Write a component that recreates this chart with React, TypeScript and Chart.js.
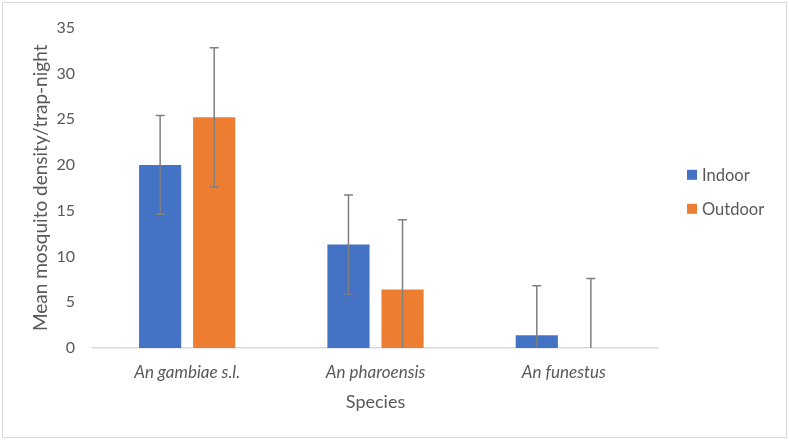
import React, { useEffect, useRef } from "react";
import { Chart, registerables } from "chart.js";

Chart.register(...registerables);

const categories = ["An gambiae s.l.", "An pharoensis", "An funestus"];
const indoorMeans = [20.0, 11.3, 1.4];
const outdoorMeans = [25.2, 6.4, 0];
const indoorErrors = [5.4, 5.4, 5.4];
const outdoorErrors = [7.6, 7.6, 7.6];
const seriesNames = ["Indoor", "Outdoor"];
const seriesColors = ["#4472C4", "#ED7D31"];
const yTitle = "Mean mosquito density/trap-night";
const xTitle = "Species";

const FONT = "Lato";
const TEXT = "#595959";

const errorBarPlugin = {
  id: "errorBars",
  afterDatasetsDraw(chart: any) {
    const ctx = chart.ctx;
    const yScale = chart.scales.y;
    ctx.save();
    ctx.strokeStyle = "#7f7f7f";
    ctx.lineWidth = 1.5;
    chart.data.datasets.forEach((ds: any, i: number) => {
      const meta = chart.getDatasetMeta(i);
      meta.data.forEach((bar: any, j: number) => {
        const v = ds.data[j];
        const e = ds.errors[j];
        const lo = Math.max(0, v - e);
        const hi = v + e;
        const x = bar.x;
        const yLo = yScale.getPixelForValue(lo);
        const yHi = yScale.getPixelForValue(hi);
        ctx.beginPath();
        ctx.moveTo(x, yLo);
        ctx.lineTo(x, yHi);
        ctx.moveTo(x - 4.5, yHi);
        ctx.lineTo(x + 4.5, yHi);
        if (lo > 0) {
          ctx.moveTo(x - 4.5, yLo);
          ctx.lineTo(x + 4.5, yLo);
        }
        ctx.stroke();
      });
    });
    ctx.restore();
  },
};

const frameLegendPlugin = {
  id: "frameLegend",
  beforeDraw(chart: any) {
    const ctx = chart.ctx;
    ctx.save();
    ctx.fillStyle = "#ffffff";
    ctx.fillRect(0, 0, chart.width, chart.height);
    ctx.strokeStyle = "#d9d9d9";
    ctx.lineWidth = 1;
    ctx.strokeRect(2.5, 2.5, chart.width - 5, chart.height - 5);
    ctx.restore();
  },
  afterDraw(chart: any) {
    const ctx = chart.ctx;
    const area = chart.chartArea;
    const x0 = area.right + 29;
    const mid = (area.top + area.bottom) / 2;
    ctx.save();
    ctx.font = `16.5px ${FONT}`;
    ctx.textBaseline = "middle";
    ctx.textAlign = "left";
    seriesNames.forEach((name, i) => {
      const cy = mid - 13 + i * 34;
      ctx.fillStyle = seriesColors[i];
      ctx.fillRect(x0, cy - 5, 10, 10);
      ctx.fillStyle = TEXT;
      ctx.fillText(name, x0 + 15, cy + 1);
    });
    ctx.restore();
  },
};

export default function App() {
  const ref = useRef<HTMLCanvasElement>(null);
  useEffect(() => {
    if (!ref.current) return;
    const chart = new Chart(ref.current, {
      type: "bar",
      data: {
        labels: categories,
        datasets: [
          {
            label: seriesNames[0],
            data: indoorMeans,
            errors: indoorErrors,
            backgroundColor: seriesColors[0],
            categoryPercentage: 0.574,
            barPercentage: 0.78,
          } as any,
          {
            label: seriesNames[1],
            data: outdoorMeans,
            errors: outdoorErrors,
            backgroundColor: seriesColors[1],
            categoryPercentage: 0.574,
            barPercentage: 0.78,
          } as any,
        ],
      },
      options: {
        animation: false,
        responsive: true,
        maintainAspectRatio: false,
        layout: { padding: { left: 0, right: 131, top: 24, bottom: 0 } },
        plugins: {
          legend: { display: false },
          tooltip: { enabled: false },
        },
        scales: {
          x: {
            grid: { display: false, drawTicks: false },
            border: { display: true, color: "#d9d9d9", width: 1.5 },
            ticks: {
              color: TEXT,
              font: { family: FONT, size: 17, style: "italic" },
              padding: 14,
            },
            title: {
              display: true,
              text: xTitle,
              color: TEXT,
              font: { family: FONT, size: 18 },
              padding: { top: 27, bottom: 27 },
            },
            afterFit: (s: any) => {
              s.height = 92;
            },
          },
          y: {
            min: 0,
            max: 35,
            grid: { display: false, drawTicks: false },
            border: { display: false },
            ticks: {
              stepSize: 5,
              color: TEXT,
              font: { family: FONT, size: 16 },
              padding: 18,
            },
            title: {
              display: true,
              text: yTitle,
              color: TEXT,
              font: { family: FONT, size: 19 },
              padding: { top: 29, bottom: 29 },
            },
            afterFit: (s: any) => {
              s.width = 93;
            },
          },
        },
      },
      plugins: [errorBarPlugin, frameLegendPlugin],
    });
    return () => chart.destroy();
  }, []);
  return (
    <div style={{ position: "fixed", left: 0, top: 0, width: 789, height: 440 }}>
      <canvas ref={ref} style={{ width: "100%", height: "100%" }} />
    </div>
  );
}
